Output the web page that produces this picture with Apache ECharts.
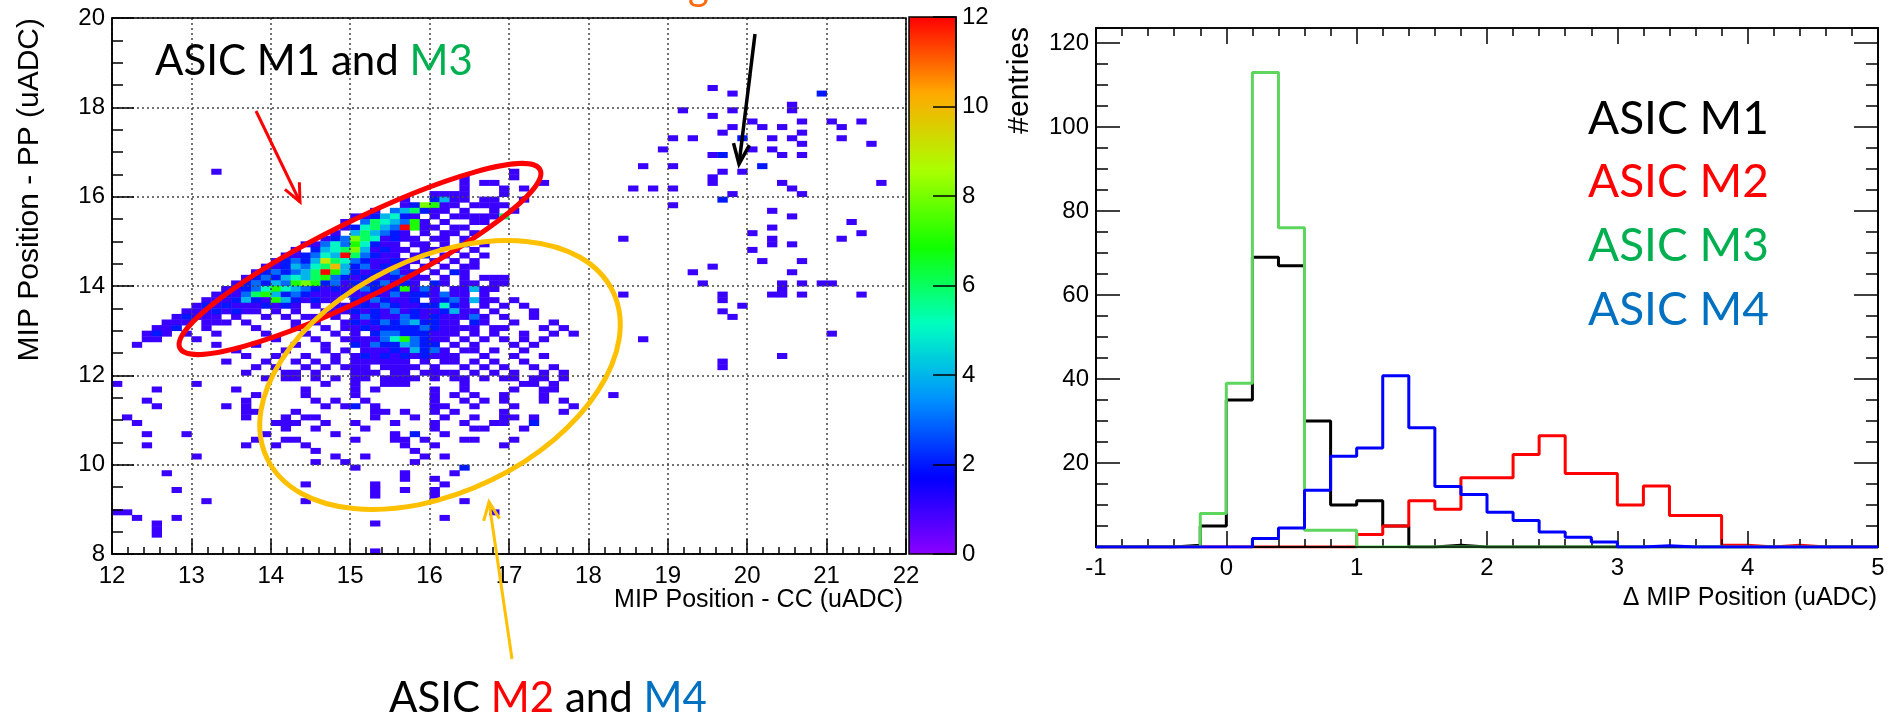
<!DOCTYPE html>
<html><head><meta charset="utf-8">
<script src="https://cdn.jsdelivr.net/npm/echarts/dist/echarts.min.js"></script>
<style>html,body{margin:0;padding:0;background:#fff}#c{width:1893px;height:721px}</style>
</head><body><div id="c"></div>
<script>
// ---------------- DATA ----------------
// 2D histogram: bins of 0.125 starting at x=12, y=8. Each row: [yBinIndex, "xBinIndex[:count] ..."] (count 1 if omitted)
const heatXMin = 12, heatYMin = 8, heatBin = 0.125;
const heatRows = [
 [83,"60"],[82,"62 71:2"],[80,"68"],[79,"57 62 68"],[78,"60"],[77,"64 69 72 75"],[76,"62 65 67 73"],
 [75,"61 69"],[74,"56 58 63:2 66 68 73"],[73,"69 76"],[72,"55 64 66"],[71,"60 61:2 67 69"],[69,"53 56 65:2"],
 [68,"10 40 61 63"],[67,"35 40 60"],[66,"35 37 38 43 60 67 77"],[65,"35 39 41 52 54 56 68"],
 [64,"32 33 34 35 39 62 69"],
 [63,"29 32:2 33:4 34 35 37 38 41 61:2"],
 [62,"29 30:2 31:8 32:7 33 34 36 37 38 39 56"],
 [61,"26 28:3 29:4 30:6 31:2 32 33 35 38 40 66"],
 [60,"24 25 26:2 27:4 28:5 29:2 30 32 34 35 36 37 38 39:6 68"],
 [59,"23 25:3 26:6 27:5 28:4 29:3 30:7 31 33 36 37 74"],
 [58,"23 24:2 25:5 26:6 27:4 28:3 29:12 30:7 31 32 34 35 66"],
 [57,"22 24:4 25:6 26:4 27:3 28:2 29 31 33 34 36 64 75"],
 [56,"21 22:2 23:3 24:8 25:6 26:5 27 28:2 29 30 32 33 35 51 66 73"],
 [55,"19 20 21:3 22:5 23:3 24:7 25:5 26:2 27 28 30 31 33 35:2 37 66 68"],
 [54,"18 20:2 21:4 22:5 23:6 24:8 25:4 26 27:2 28 29 31 32 34 36 64"],
 [53,"17 18 19:2 20:3 21:5 22:4 23:12 24:6 25:3 26:2 27 28 30 31:2 33 35 37"],
 [52,"16 17:2 18:3 19:2 20:4 21:9 22:6 23:5 24:3 25:2 26 27 28:2 29 30 32 34 36 65 69"],
 [51,"15 16 17:2 18:4 19:3 20:5 21:6 22:10 23:4 24:2 25:3 26 27:2 28 29 31 33 35 36 60"],
 [50,"14 15:2 16:3 17:2 18:3 19:4 20:6 21:12 22:7 23:4 24:2 25 26:2 27 28:3 29 30:2 32 34:2 35 58 68"],
 [49,"13 14:2 15:3 16:2 17:4 18:5 19:4 20:6 21:7 22:3 23:2 24 25:2 26 27 28:2 29:3 30 31 33 35 37 38 39"],
 [48,"12 13:2 14:3 15:2 16:4 17:3 18:7 19:8 20:7 21:2 22:3 23 24:2 25 26:2 27:3 28 29:2 30 32:2 33 35 36 38 39 59 67 69 71 72"],
 [47,"11 12 13:2 14:3 15:5 16:7 17:5 18:4 19:3 20:2 21 22:2 23 24 25:3 26:2 27 28:2 29:7 30 31:3 32 34 35 36:4 37 38 67"],
 [46,"10 11:2 12 13:3 14:6 15:7 16:4 17:2 18:3 19:2 20 21 22 23:2 24 25 26:2 27 28:3 29 30:2 31:2 32 33:3 34 35 37 51 61 66 67 69 75"],
 [45,"9 10 11 12:2 13:4 14:2 15 16:7 17:4 18:2 19 20:2 21 22 24:2 25 26:3 27:2 28 29 30:2 32 33:2 34:3 35 36:4 37 38 40 61"],
 [44,"8 9:2 10 11:2 12 13 14 15:2 16 17:2 18 20 22 23 24 25:2 26 27:3 28:2 29 30 31:2 32:2 33:5 34:2 35 37 39 41 63"],
 [43,"7 8 9 10:2 11 12:2 13 14 16 18 21 22 23 24:2 25 26:2 27 28:3 29 30:2 31 32 33:2 34:4 35 36 38 42 61"],
 [42,"6 7:2 8 9 10 12 15 17 19 20 22 24 25:3 26:2 27 28 29:3 30:2 31 32:2 33 34 35 36:3 37 39 42 62"],
 [41,"5 6 7 9 10 11 13 18 20 23 24:2 25 26:2 27:3 28:2 29:3 30:4 31:2 32:2 33 34 36:2 37 40 44"],
 [40,"4 5 6:2 9 14 18 21 23 24 25:2 26 27:2 28:2 29:2 30:2 31:3 32:2 33 34 35 36 38 39 43 45"],
 [39,"3 4:2 5 7 10 15 19 22 24 26:2 27:3 28:3 29:2 30:2 31:2 32 33 34 36 38 41 44 46 72"],
 [38,"3 4 8 16 20 23 24 25 26 27:3 28:5 29:7 30:3 31:2 32 33 35 37 39 41 43 53"],
 [37,"2 10 14 18 21 24:2 25 26:3 27:2 28:2 29:4 30:3 31:2 32:2 34 36 40 42"],
 [36,"12 17 21 23 25 26 27 28:2 29 30:4 31:2 32:3 33 35 36 38 41"],
 [35,"13 16 19 22 24 25:2 26 27:2 28 29:2 30 31:2 32 33 34 37 40 43 67"],
 [34,"11 15 18 20 22 24 25 26 27 28 29 31 33 34 36 38 41 61"],
 [33,"14 16 19 21 23 24 25 27 28 29 30 32 35 37 39 42 44 61"],
 [32,"13 17 18 20 24 25 26 28 29 31 32 33 34 36 38 40 43 45"],
 [31,"15 17 18 20 22 24 25 27 28 29 30 32 34 35 37 39 40 42 43 45"],
 [30,"0 8 21 24 27 28 29 35 41 42 44"],
 [29,"4 12 19 24 26 32 35 40 43 44"],
 [28,"14 19 24 32 34 36 39 43 50"],
 [27,"3 13 20 22 25 32 35 37 39 43 45"],
 [26,"4 11 13 21 23 24:2 26 32 33 36 40 46"],
 [25,"13 14 18 26 27 29 32 34 39 45"],
 [24,"1 13 17 19 20 26 30 33 36 39 40 42"],
 [23,"2 16 17 18 21 24 28 32 35 38 39 42:2"],
 [22,"17 20 25 32 36 37 41"],
 [21,"3 7 15 22 28 30:2 33"],
 [20,"14 17 18 24 28 29 31 35 36 40"],
 [19,"3 13 16 19 29 32 39"],
 [18,"20 30"],[17,"8 22 25 31 33"],[16,"20 23 30"],[15,"24 35:2"],[14,"5 29 34"],[13,"29 32"],
 [12,"19 26 33"],[11,"6 26 29 32"],[10,"26 32"],[9,"9 19 35"],[7,"0 1 38"],[6,"2 6 33"],
 [5,"4 26"],[4,"4"],[3,"4"],[0,"26"]
];

// 1D histograms: bin edges and contents
const histEdges = [-1,-0.8,-0.6,-0.4,-0.2,0,0.2,0.4,0.6,0.8,1,1.2,1.4,1.6,1.8,2,2.2,2.4,2.6,2.8,3,3.2,3.4,3.6,3.8,4,4.2,4.4,4.6,4.8,5];
const histM1 = [0,0,0,0.4,5,35,69,67,30,10,11,5,0,0.4,0,0,0,0,0,0,0,0,0,0,0,0,0,0,0,0];
const histM2 = [0,0,0,0,0,0,0,0,0,0,3,5,11,9,16.5,16.5,22,26.5,17.5,17.5,10,14.5,7.5,7.5,0.4,0,0.4,0,0,0];
const histM3 = [0,0,0,0,8,39,113,76,4,4,0,0,0,0,0,0,0,0,0,0,0,0,0,0,0,0,0,0,0,0];
const histM4 = [0,0,0,0,0,0,2,4.5,13.5,21.6,23.6,40.8,28.4,14.4,12.5,8.3,6.3,3.6,2.3,1.2,0,0.3,0,0,0,0,0,0,0,0];
const histNames = ['ASIC M1','ASIC M2','ASIC M3','ASIC M4'];

// ---------------- BUILD ----------------
const heatCells = [];
heatRows.forEach(([r, s]) => s.split(' ').forEach(tok => {
  const p = tok.split(':');
  heatCells.push([heatXMin + (+p[0]) * heatBin, heatYMin + r * heatBin, p[1] ? +p[1] : 1]);
}));
function stepData(vals) {
  const d = vals.map((v, i) => [histEdges[i], v]);
  d.push([histEdges[histEdges.length - 1], vals[vals.length - 1]]);
  return d;
}

const FONT = 'Liberation Sans, Arial, sans-serif';
const CAL = 'Lato, Carlito, sans-serif';
const black = '#000';

function baseAxis(extra) {
  return Object.assign({
    type: 'value',
    axisLine: { show: true, onZero: false, lineStyle: { color: black, width: 1.5 } },
    axisTick: { show: true, inside: true, lineStyle: { color: black, width: 1.5 } },
    axisLabel: { color: black, fontFamily: FONT, fontSize: 24 },
    splitLine: { show: false }
  }, extra);
}

const chart = echarts.init(document.getElementById('c'), null, { renderer: 'canvas' });

const mctx = document.createElement('canvas').getContext('2d');
function segText(x, y, segs, size, font) {
  const out = [];
  let cx = x;
  segs.forEach(([t, col]) => {
    mctx.font = size + 'px ' + font;
    out.push({ type: 'text', x: cx, y: y, z: 100,
      style: { text: t, fill: col, font: size + 'px ' + font, textAlign: 'left', textVerticalAlign: 'middle' } });
    cx += mctx.measureText(t).width;
  });
  return out;
}
function arrow(x1, y1, x2, y2, col, w, L, W) {
  const dx = x2 - x1, dy = y2 - y1, n = Math.hypot(dx, dy);
  const ux = dx / n, uy = dy / n, px = -uy, py = ux;
  const bx = x2 - L * ux, by = y2 - L * uy;
  return [
    { type: 'line', z: 100, shape: { x1, y1, x2, y2 }, style: { stroke: col, lineWidth: w } },
    { type: 'polyline', z: 100, shape: { points: [[bx + W * px, by + W * py], [x2, y2], [bx - W * px, by - W * py]] },
      style: { stroke: col, lineWidth: w, fill: null } }
  ];
}

const graphics = [].concat(
  [
    { type: 'text', x: 30, y: 18, rotation: Math.PI / 2, z: 100,
      style: { text: 'MIP Position - PP (uADC)', font: '30px ' + FONT, fill: black, textAlign: 'right', textVerticalAlign: 'middle' } },
    { type: 'text', x: 903, y: 600, z: 100,
      style: { text: 'MIP Position - CC (uADC)', font: '25px ' + FONT, fill: black, textAlign: 'right', textVerticalAlign: 'middle' } },
    { type: 'text', x: 1020, y: 27, rotation: Math.PI / 2, z: 100,
      style: { text: '#entries', font: '30px ' + FONT, fill: black, textAlign: 'right', textVerticalAlign: 'middle' } },
    { type: 'text', x: 1877, y: 598, z: 100,
      style: { text: '\u0394 MIP Position (uADC)', font: '25px ' + FONT, fill: black, textAlign: 'right', textVerticalAlign: 'middle' } },
    { type: 'text', x: 688, y: 7, z: 100,
      style: { text: 'g', font: '40px ' + CAL, fill: '#ff6a10', textAlign: 'left', textVerticalAlign: 'bottom' } },
    { type: 'ellipse', x: 360, y: 259, rotation: 0.46, z: 90, shape: { cx: 0, cy: 0, rx: 201, ry: 38 },
      style: { fill: null, stroke: '#ff0000', lineWidth: 5 } },
    { type: 'ellipse', x: 440, y: 375, rotation: 0.45, z: 90, shape: { cx: 0, cy: 0, rx: 192, ry: 117 },
      style: { fill: null, stroke: '#ffc000', lineWidth: 5 } }
  ],
  arrow(256, 111, 300, 202, '#ff0000', 3, 18, 8),
  arrow(755, 34, 739, 164, '#000', 3.5, 20, 8),
  arrow(512, 659, 489, 502, '#ffc000', 3, 18, 8),
  segText(155, 61, [['ASIC M1 and ', black], ['M3', '#00b050']], 42, CAL),
  segText(389, 698, [['ASIC ', black], ['M2', '#ff0000'], [' and ', black], ['M4', '#0070c0']], 42, CAL),
  segText(1588, 119, [['ASIC M1', black]], 46, CAL),
  segText(1588, 182, [['ASIC M2', '#ff0000']], 46, CAL),
  segText(1588, 246, [['ASIC M3', '#00b050']], 46, CAL),
  segText(1588, 310, [['ASIC M4', '#0070c0']], 46, CAL)
);

const option = {
  animation: false,
  backgroundColor: '#fff',
  grid: [
    { left: 112, top: 18, width: 794, height: 536, show: true, borderColor: black, borderWidth: 1.5, backgroundColor: 'transparent', z: 6 },
    { left: 909, top: 17, width: 47, height: 537, show: true, borderColor: black, borderWidth: 1.5, backgroundColor: 'transparent', z: 6 },
    { left: 1096, top: 28, width: 782, height: 519, show: true, borderColor: black, borderWidth: 1.5, backgroundColor: 'transparent', z: 6 }
  ],
  xAxis: [
    baseAxis({ gridIndex: 0, min: 12, max: 22, interval: 1, z: 5,
      axisTick: { show: true, inside: true, length: 15, lineStyle: { color: black, width: 1.5 } },
      minorTick: { show: true, splitNumber: 5, length: 7, lineStyle: { color: black, width: 1.5 } },
      axisLabel: { color: black, fontFamily: FONT, fontSize: 24, margin: 10 },
      splitLine: { show: true, lineStyle: { type: [2, 3], color: '#444', width: 1.5 } } }),
    { gridIndex: 1, type: 'value', min: 0, max: 1, show: false },
    baseAxis({ gridIndex: 2, min: -1, max: 5, interval: 1, z: 5,
      axisTick: { show: true, inside: true, length: 16, lineStyle: { color: black, width: 1.5 } },
      minorTick: { show: true, splitNumber: 5, length: 8, lineStyle: { color: black, width: 1.5 } },
      axisLabel: { color: black, fontFamily: FONT, fontSize: 24, margin: 9 } }),
    baseAxis({ gridIndex: 2, min: -1, max: 5, interval: 1, position: 'top', z: 5,
      axisTick: { show: true, inside: true, length: 16, lineStyle: { color: black, width: 1.5 } },
      minorTick: { show: true, splitNumber: 5, length: 8, lineStyle: { color: black, width: 1.5 } },
      axisLabel: { show: false } })
  ],
  yAxis: [
    baseAxis({ gridIndex: 0, min: 8, max: 20, interval: 2, z: 5,
      axisTick: { show: true, inside: true, length: 22, lineStyle: { color: black, width: 1.5 } },
      minorTick: { show: true, splitNumber: 4, length: 11, lineStyle: { color: black, width: 1.5 } },
      axisLabel: { color: black, fontFamily: FONT, fontSize: 24, margin: 7 },
      splitLine: { show: true, lineStyle: { type: [2, 3], color: '#444', width: 1.5 } } }),
    baseAxis({ gridIndex: 1, min: 0, max: 12, interval: 2, position: 'right', z: 7,
      axisTick: { show: true, inside: true, length: 23, lineStyle: { color: black, width: 1.5 } },
      axisLabel: { color: black, fontFamily: FONT, fontSize: 24, margin: 6 } }),
    baseAxis({ gridIndex: 2, min: 0, max: 123.6, interval: 20, position: 'left', z: 5,
      axisTick: { show: true, inside: true, length: 24, lineStyle: { color: black, width: 1.5 } },
      axisLabel: { color: black, fontFamily: FONT, fontSize: 24, margin: 7,
        formatter: v => (v > 0 && v % 20 === 0) ? String(v) : '' } }),
    baseAxis({ gridIndex: 2, min: 0, max: 123.6, interval: 20, position: 'right', z: 5,
      axisTick: { show: true, inside: true, length: 24, lineStyle: { color: black, width: 1.5 } },
      axisLabel: { show: false } }),
    baseAxis({ gridIndex: 2, min: 0, max: 123.6, interval: 5, position: 'left', z: 5,
      axisTick: { show: true, inside: true, length: 12, lineStyle: { color: black, width: 1.5 } },
      axisLabel: { show: false } }),
    baseAxis({ gridIndex: 2, min: 0, max: 123.6, interval: 5, position: 'right', z: 5,
      axisTick: { show: true, inside: true, length: 12, lineStyle: { color: black, width: 1.5 } },
      axisLabel: { show: false } })
  ],
  visualMap: {
    type: 'continuous', min: 0, max: 12, dimension: 2, seriesIndex: 0,
    calculable: false, hoverLink: false, realtime: false, text: null, padding: 0,
    left: 909, top: 17, itemWidth: 47, itemHeight: 537, orient: 'vertical',
    inRange: { color: ['#8a00ff', '#0000ff', '#0090ff', '#00ffc0', '#10ff00', '#aaff00', '#ffaa00', '#ff0000'] }
  },
  series: [
    { type: 'custom', xAxisIndex: 0, yAxisIndex: 0, z: 2, clip: true,
      encode: { x: 0, y: 1 },
      data: heatCells,
      renderItem: (params, api) => {
        const x = api.value(0), y = api.value(1);
        const a = api.coord([x, y + heatBin]);
        const b = api.coord([x + heatBin, y]);
        return { type: 'rect', shape: { x: a[0], y: a[1], width: b[0] - a[0] + 0.4, height: b[1] - a[1] + 0.4 },
          style: { fill: api.visual('color') } };
      } },
    { name: histNames[0], type: 'line', step: 'end', xAxisIndex: 2, yAxisIndex: 2, showSymbol: false, symbol: 'none',
      data: stepData(histM1), lineStyle: { color: '#000', width: 3 }, z: 3 },
    { name: histNames[1], type: 'line', step: 'end', xAxisIndex: 2, yAxisIndex: 2, showSymbol: false, symbol: 'none',
      data: stepData(histM2), lineStyle: { color: '#ff0000', width: 3 }, z: 4 },
    { name: histNames[2], type: 'line', step: 'end', xAxisIndex: 2, yAxisIndex: 2, showSymbol: false, symbol: 'none',
      data: stepData(histM3), lineStyle: { color: '#5ed65e', width: 3 }, z: 5 },
    { name: histNames[3], type: 'line', step: 'end', xAxisIndex: 2, yAxisIndex: 2, showSymbol: false, symbol: 'none',
      data: stepData(histM4), lineStyle: { color: '#0000ff', width: 3 }, z: 6 }
  ],
  graphic: graphics
};
chart.setOption(option);
</script></body></html>
